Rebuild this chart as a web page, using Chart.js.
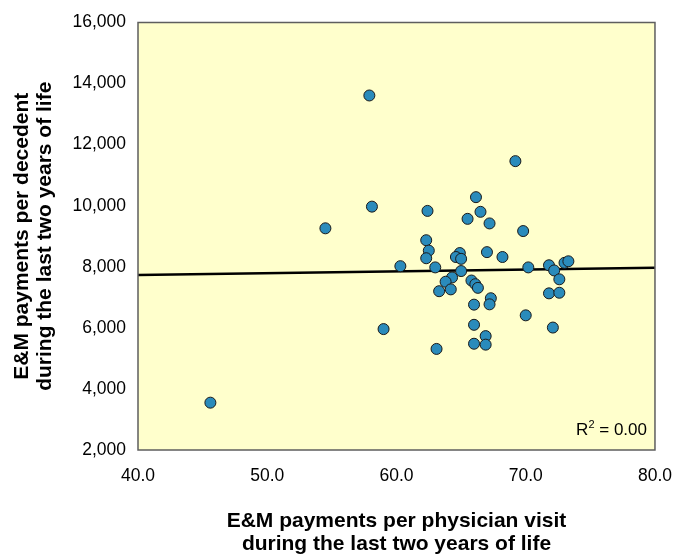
<!DOCTYPE html>
<html>
<head>
<meta charset="utf-8">
<script src="https://cdn.jsdelivr.net/npm/chart.js@4.4.1/dist/chart.umd.min.js"></script>
<style>
  html, body { margin: 0; padding: 0; background: #fff; }
  #wrap { width: 688px; height: 557px; }
</style>
</head>
<body>
<div id="wrap"><canvas id="scatterChart" width="688" height="557"></canvas></div>
<script>
// E&M payments per physician visit (x) vs payments per decedent (y)
const visitPayments = [
  45.6, 54.5, 57.9, 58.1, 59.0, 60.3, 69.2, 66.15, 62.4, 66.5,
  65.5, 67.2, 69.8, 62.3, 62.5, 64.9, 64.6, 67.0, 68.2, 62.3,
  65.0, 63.0, 70.2, 65.0, 64.3, 63.8, 65.8, 66.1, 66.3, 64.2,
  63.3, 67.3, 67.2, 66.0, 70.0, 66.0, 66.9, 66.0, 66.9, 63.1,
  71.8, 72.2, 73.0, 73.3, 72.6, 71.8, 72.6, 72.1
];
const decedentPayments = [
  3550, 9260, 13610, 9970, 5960, 8020, 11460, 10280, 9830, 9800,
  9570, 9420, 9170, 8870, 8530, 8450, 8320, 8480, 8320, 8280,
  8260, 7980, 7980, 7860, 7650, 7510, 7550, 7430, 7310, 7260,
  7200, 6970, 6770, 6760, 6410, 6100, 5730, 5480, 5450, 5310,
  8050, 7880, 8130, 8180, 7590, 7130, 7150, 6010
];
const trendX = [40, 80];
const trendY = [7730, 7970];
const rSquared = '0.00';

const FONT = "'Liberation Sans', Arial, Helvetica, sans-serif";

const points = visitPayments.map((x, i) => ({ x: x, y: decedentPayments[i] }));
const trend = trendX.map((x, i) => ({ x: x, y: trendY[i] }));

// yellow plot background + frame
const plotFrame = {
  id: 'plotFrame',
  beforeDatasetsDraw(chart) {
    const { ctx, chartArea: a } = chart;
    ctx.save();
    ctx.fillStyle = '#ffffcc';
    ctx.fillRect(a.left, a.top, a.right - a.left, a.bottom - a.top);
    ctx.restore();
  },
  afterDatasetsDraw(chart) {
    const { ctx, chartArea: a } = chart;
    ctx.save();
    ctx.strokeStyle = '#5e5e5e';
    ctx.lineWidth = 1.5;
    ctx.strokeRect(a.left, a.top, a.right - a.left, a.bottom - a.top);

    // R² label
    ctx.fillStyle = '#000';
    ctx.textBaseline = 'alphabetic';
    const base = a.bottom - 15;
    const rest = ' = ' + rSquared;
    ctx.font = '17px ' + FONT;
    const wR = ctx.measureText('R').width;
    const wRest = ctx.measureText(rest).width;
    ctx.font = '11px ' + FONT;
    const w2 = ctx.measureText('2').width;
    let x = a.right - 8 - wR - w2 - wRest;
    ctx.font = '17px ' + FONT;
    ctx.fillText('R', x, base);
    ctx.font = '11px ' + FONT;
    ctx.fillText('2', x + wR, base - 7);
    ctx.font = '17px ' + FONT;
    ctx.fillText(rest, x + wR + w2, base);
    ctx.restore();
  }
};

const ctx = document.getElementById('scatterChart').getContext('2d');
new Chart(ctx, {
  type: 'scatter',
  data: {
    datasets: [{
      data: points,
      backgroundColor: '#2a8bbb',
      borderColor: '#1a1a1a',
      borderWidth: 1,
      pointRadius: 5.5,
      pointHoverRadius: 5.5
    }, {
      type: 'line',
      data: trend,
      borderColor: '#000',
      borderWidth: 2.5,
      pointRadius: 0,
      fill: false
    }]
  },
  options: {
    responsive: false,
    animation: false,
    events: [],
    layout: { padding: { left: 0, right: 33, top: 16, bottom: 0 } },
    plugins: { legend: { display: false }, tooltip: { enabled: false } },
    scales: {
      x: {
        type: 'linear',
        min: 40, max: 80,
        afterFit: (s) => { s.height = 107; },
        grid: { display: false, drawTicks: false },
        border: { display: false },
        ticks: {
          stepSize: 10,
          padding: 16,
          color: '#000',
          font: { family: FONT, size: 17.5 },
          callback: (v) => v.toFixed(1)
        },
        title: {
          display: true,
          text: ['E&M payments per physician visit', 'during the last two years of life'],
          color: '#000',
          font: { family: FONT, size: 21, weight: 'bold', lineHeight: 1.1 },
          padding: { top: 0, bottom: 1 }
        }
      },
      y: {
        min: 2000, max: 16000,
        afterFit: (s) => { s.width = 138; },
        grid: { display: false, drawTicks: false },
        border: { display: false },
        ticks: {
          stepSize: 2000,
          padding: 12,
          color: '#000',
          font: { family: FONT, size: 17.5 },
          callback: (v) => v.toLocaleString('en-US')
        },
        title: {
          display: true,
          text: ['E&M payments per decedent', 'during the last two years of life'],
          color: '#000',
          font: { family: FONT, size: 21, weight: 'bold', lineHeight: 1.1 },
          padding: { top: 11, bottom: 0 }
        }
      }
    }
  },
  plugins: [plotFrame]
});
</script>
</body>
</html>
